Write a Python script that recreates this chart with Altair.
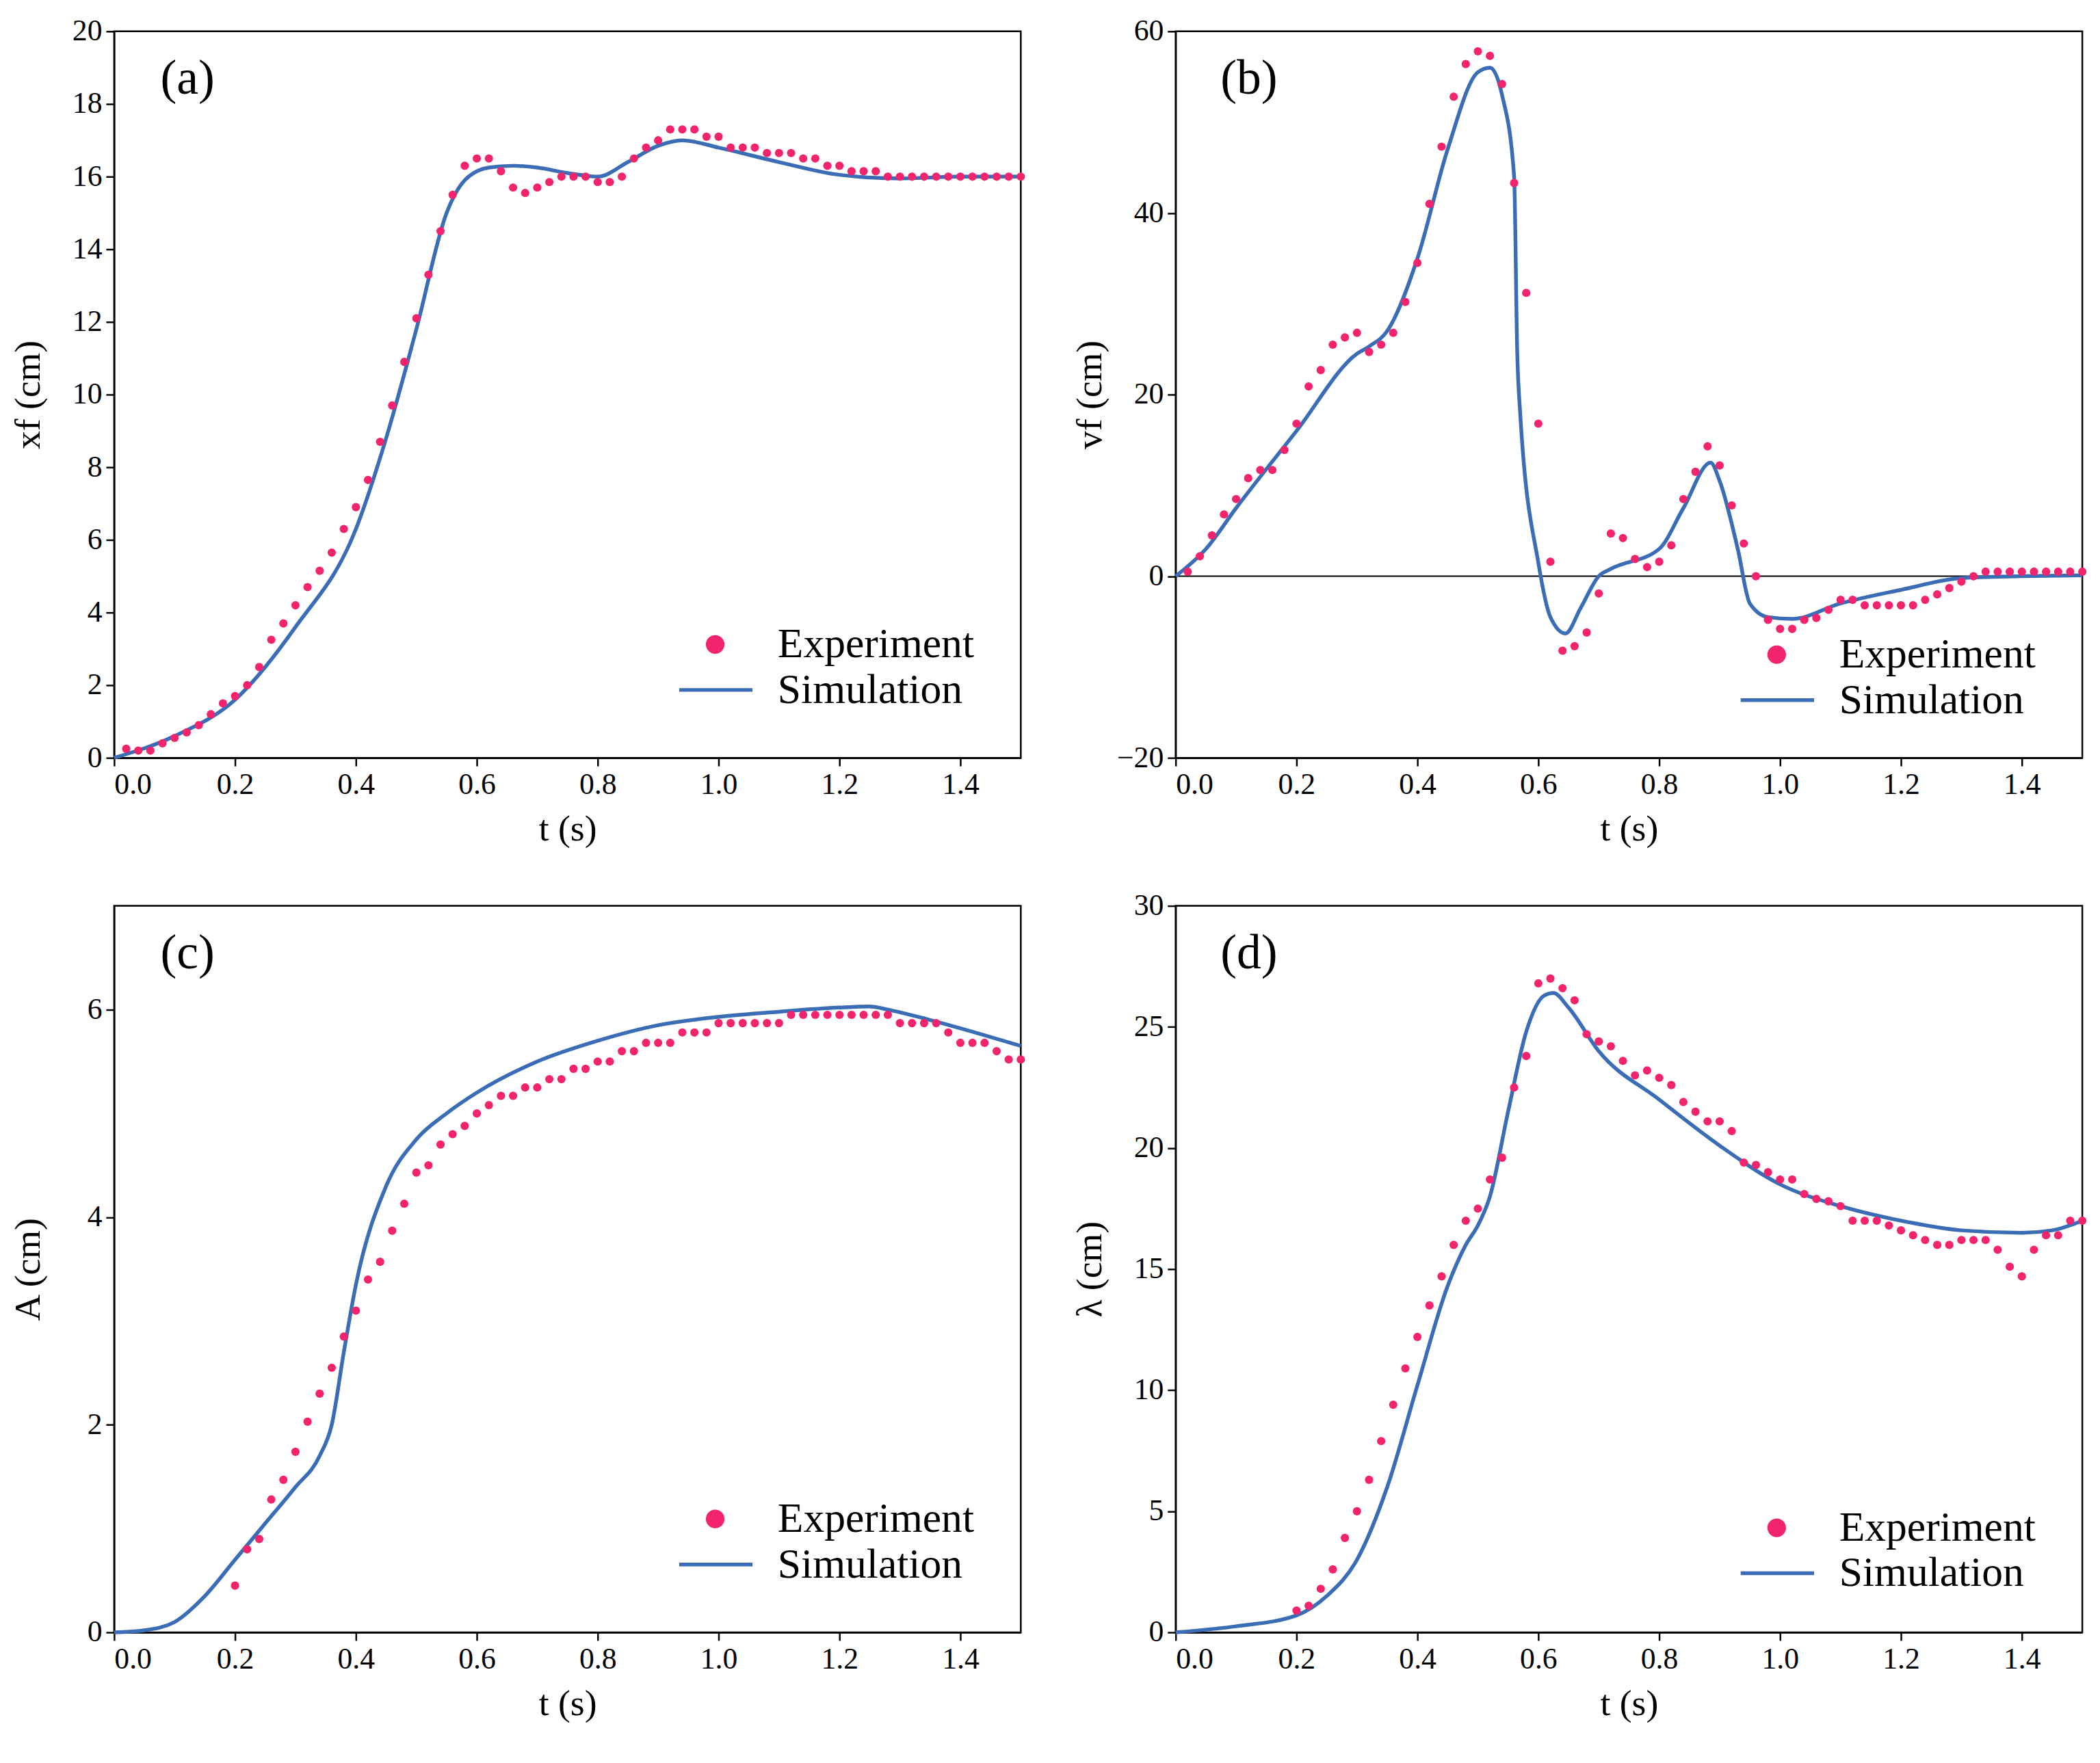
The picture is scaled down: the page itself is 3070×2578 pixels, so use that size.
import altair as alt
import pandas as pd

# experiment values, sampled every 0.02 s
exp_a = [0.25, 0.2, 0.2, 0.4, 0.55, 0.7, 0.9, 1.2, 1.5, 1.7, 2.0, 2.5, 3.25, 3.7, 4.2, 4.7, 5.15, 5.65, 6.3, 6.9,
         7.65, 8.7, 9.7, 10.9, 12.1, 13.3, 14.5, 15.5, 16.3, 16.5, 16.5, 16.15, 15.7, 15.55, 15.7, 15.85, 16.0, 16.0,
         16.0, 15.85, 15.85, 16.0, 16.5, 16.8, 17.0, 17.3, 17.3, 17.3, 17.1, 17.1, 16.8, 16.8, 16.8, 16.65, 16.65,
         16.65, 16.5, 16.5, 16.3, 16.3, 16.15, 16.15, 16.15] + [16.0] * 12
exp_b = [0.5, 2.2, 4.5, 6.8, 8.5, 10.8, 11.7, 11.7, 13.9, 16.8, 20.9, 22.7, 25.5, 26.3, 26.8, 24.7, 25.5, 26.8,
         30.2, 34.5, 41.0, 47.3, 52.8, 56.4, 57.8, 57.3, 54.2, 43.3, 31.2, 16.8, 1.6, -8.2, -7.7, -6.2, -1.9, 4.7,
         4.2, 1.9, 1.0, 1.6, 3.4, 8.5, 11.5, 14.3, 12.2, 7.8, 3.6, 0.0, -4.8, -5.8, -5.8, -4.8, -4.6, -3.7, -2.6,
         -2.6, -3.2, -3.2, -3.2, -3.2, -3.2, -2.6, -2.0, -1.3, -0.6, 0.0, 0.5] + [0.5] * 8
exp_c = [0.45, 0.8, 0.9, 1.28, 1.47, 1.74, 2.03, 2.3, 2.55, 2.85, 3.1, 3.4, 3.57, 3.87, 4.13, 4.43, 4.5, 4.7, 4.8,
         4.88, 5.0, 5.08, 5.17, 5.17, 5.25, 5.25, 5.33, 5.33, 5.43, 5.43, 5.5, 5.5, 5.6, 5.6, 5.68, 5.68, 5.68,
         5.78, 5.78, 5.78, 5.87, 5.87, 5.87, 5.87, 5.87, 5.87, 5.95] + [5.95] * 8 + \
        [5.87, 5.87, 5.87, 5.87, 5.78, 5.68, 5.68, 5.68, 5.6, 5.52, 5.52]
exp_d = [0.9, 1.1, 1.8, 2.6, 3.9, 5.0, 6.3, 7.9, 9.4, 10.9, 12.2, 13.5, 14.7, 16.0, 17.0, 17.5, 18.7, 19.6, 22.5,
         23.8, 26.8, 27.0, 26.6, 26.1, 24.7, 24.4, 24.2, 23.6, 23.0, 23.2, 22.9, 22.6, 21.9, 21.5, 21.1, 21.1,
         20.7, 19.4, 19.3, 19.0, 18.7, 18.7, 18.1, 17.9, 17.8, 17.6, 17.0, 17.0, 17.0, 16.8, 16.6, 16.4, 16.2,
         16.0, 16.0, 16.2, 16.2, 16.2, 15.8, 15.1, 14.7, 15.8, 16.4, 16.4, 17.0, 17.0]

# simulation curves
sim_a_t = [0, 0.1, 0.2, 0.3, 0.4, 0.45, 0.5, 0.55, 0.58, 0.62, 0.66, 0.7, 0.75, 0.8, 0.85, 0.9, 0.94, 1.0, 1.1, 1.2, 1.3, 1.4, 1.5]
sim_a = [0, 0.6, 1.6, 3.6, 6.3, 8.8, 11.8, 15.0, 15.9, 16.25, 16.3, 16.25, 16.1, 16.0, 16.4, 16.85, 17.0, 16.8, 16.4, 16.05, 15.95, 16.0, 16.0]
sim_b_t = [0, 0.05, 0.1, 0.2, 0.3, 0.32, 0.35, 0.4, 0.45, 0.5, 0.52, 0.54, 0.56, 0.565, 0.57, 0.6, 0.62, 0.645, 0.67,
           0.7, 0.72, 0.8, 0.84, 0.885, 0.9, 0.93, 0.95, 0.98, 1.02, 1.1, 1.2, 1.3, 1.4, 1.5]
sim_b = [0, 3, 7.5, 16, 24.5, 25.3, 27, 35, 47, 55.5, 56, 53, 44, 25, 18, 1.5, -4.5, -6.3, -3.5, 0, 0.8, 3, 7.5,
         12.5, 10.5, 3, -3, -4.5, -4.7, -3, -1.5, -0.2, 0, 0.1]
sim_c_t = [0, 0.05, 0.1, 0.15, 0.2, 0.25, 0.3, 0.34, 0.36, 0.38, 0.4, 0.45, 0.5, 0.55, 0.6, 0.7, 0.8, 0.9, 1.0, 1.1, 1.2, 1.25, 1.28, 1.35, 1.5]
sim_c = [0, 0.02, 0.1, 0.35, 0.7, 1.05, 1.4, 1.7, 2.0, 2.7, 3.35, 4.3, 4.75, 5.0, 5.2, 5.5, 5.7, 5.85, 5.93, 5.98, 6.02, 6.03, 6.0, 5.9, 5.65]
sim_d_t = [0, 0.1, 0.2, 0.25, 0.3, 0.35, 0.4, 0.45, 0.48, 0.5, 0.52, 0.55, 0.58, 0.61, 0.625, 0.65, 0.7, 0.8, 0.9, 1.0, 1.1, 1.2, 1.3, 1.4, 1.45, 1.5]
sim_d = [0, 0.25, 0.7, 1.5, 3.0, 6.0, 10.2, 14.3, 16.0, 16.8, 18.0, 21.5, 24.8, 26.3, 26.4, 25.8, 24.0, 22.0, 20.1, 18.5, 17.6, 17.0, 16.6, 16.5, 16.6, 17.0]

X_TICKS = [0.0, 0.2, 0.4, 0.6, 0.8, 1.0, 1.2, 1.4]

FONT = 'Liberation Serif'
PINK = '#F2246E'
BLUE = '#3A6DB5'
W, H = 1335, 1070


def panel(exp_y, t0, sim_t, sim_y, ydom, yticks, label, ytitle, leg_y, zero=False):
    exp = pd.DataFrame({'t': [round(t0 + 0.02 * i, 2) for i in range(len(exp_y))], 'y': exp_y})
    sim = pd.DataFrame({'t': sim_t, 'y': sim_y})
    x = alt.X('t:Q', scale=alt.Scale(domain=[0, 1.5], nice=False),
              axis=alt.Axis(values=X_TICKS, format='.1f', title='t (s)'))
    y = alt.Y('y:Q', scale=alt.Scale(domain=ydom, nice=False),
              axis=alt.Axis(values=yticks, title=ytitle))
    pts = alt.Chart(exp).mark_circle(color=PINK, size=150, opacity=1).encode(x=x, y=y)
    line = alt.Chart(sim).mark_line(color=BLUE, strokeWidth=5.5, interpolate='monotone').encode(x=x, y=y)
    layers = []
    if zero:
        layers.append(alt.Chart(pd.DataFrame({'y': [0]})).mark_rule(color='black', strokeWidth=2).encode(y='y:Q'))
    layers += [line, pts]
    lab = alt.Chart(pd.DataFrame({'s': [label]})).mark_text(
        font=FONT, fontSize=72, align='center', baseline='middle').encode(
        text='s:N', x=alt.value(108), y=alt.value(70))
    leg_pt = alt.Chart(pd.DataFrame({'s': ['Experiment']})).mark_circle(
        color=PINK, size=750, opacity=1).encode(x=alt.value(885), y=alt.value(leg_y))
    leg_ln = alt.Chart(pd.DataFrame({'s': ['Simulation']})).mark_rule(
        color=BLUE, strokeWidth=5.5).encode(x=alt.value(832), x2=alt.value(940),
                                             y=alt.value(leg_y + 67))
    txt1 = alt.Chart(pd.DataFrame({'s': ['Experiment']})).mark_text(
        font=FONT, fontSize=62, align='left', baseline='middle').encode(
        text='s:N', x=alt.value(977), y=alt.value(leg_y))
    txt2 = alt.Chart(pd.DataFrame({'s': ['Simulation']})).mark_text(
        font=FONT, fontSize=62, align='left', baseline='middle').encode(
        text='s:N', x=alt.value(977), y=alt.value(leg_y + 67))
    layers += [lab, leg_pt, leg_ln, txt1, txt2]
    return alt.layer(*layers).properties(width=W, height=H)


pa = panel(exp_a, 0.02, sim_a_t, sim_a, [0, 20], list(range(0, 21, 2)), '(a)', 'xf (cm)', 903)
pb = panel(exp_b, 0.02, sim_b_t, sim_b, [-20, 60], [-20, 0, 20, 40, 60], '(b)', 'vf (cm)', 918, zero=True)
pc = panel(exp_c, 0.2, sim_c_t, sim_c, [0, 7], [0, 2, 4, 6], '(c)', 'A (cm)', 903)
pd_ = panel(exp_d, 0.2, sim_d_t, sim_d, [0, 30], [0, 5, 10, 15, 20, 25, 30], '(d)', 'λ (cm)', 916)

chart = alt.vconcat(
    alt.hconcat(pa, pb, spacing=60),
    alt.hconcat(pc, pd_, spacing=60),
    spacing=60
).configure(font=FONT).configure_view(
    stroke='black', strokeWidth=2.5
).configure_axis(
    labelFont=FONT, titleFont=FONT, labelFontSize=44, titleFontSize=54,
    labelColor='black', titleColor='black', domainColor='black', tickColor='black',
    domainWidth=2.5, tickWidth=2.5, tickSize=12, grid=False, titleFontWeight='normal',
    labelPadding=6
).configure_axisY(titlePadding=14, minExtent=85, maxExtent=85).configure_axisX(titlePadding=16).properties(
    background='white'
)

chart.save('out.html', embed_options={'renderer': 'svg', 'actions': False})
